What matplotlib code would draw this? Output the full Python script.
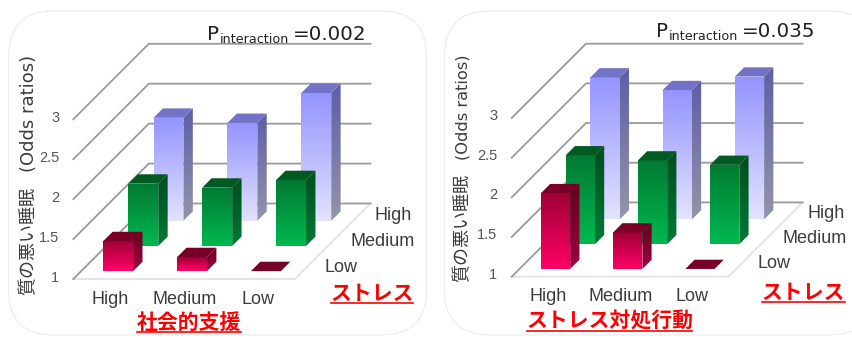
import numpy as np
import matplotlib
matplotlib.use("Agg")
import matplotlib.pyplot as plt
from matplotlib.colors import LinearSegmentedColormap
from matplotlib.patches import FancyBboxPatch, Polygon

WIDTH, HEIGHT = 852, 337
JP_FONT = ["Noto Sans CJK JP", "DejaVu Sans"]
LATIN_FONT = "Liberation Sans"

levels = ["High", "Medium", "Low"]
ticks = [1, 1.5, 2, 2.5, 3]

# odds ratios, one list per stress row, ordered High / Medium / Low on the x axis
support_stress_high = [2.29, 2.225, 2.60]
support_stress_medium = [1.78, 1.73, 1.825]
support_stress_low = [1.375, 1.175, 1.0]

coping_stress_high = [2.79, 2.63, 2.80]
coping_stress_medium = [2.12, 2.055, 2.00]
coping_stress_low = [1.955, 1.46, 1.0]

# (front top, front bottom, side top, side bottom, cap)
BLUE = ("#9494ff", "#e2e2ff", "#5e5ea6", "#9494aa", "#7272c6")
GREEN = ("#007a33", "#00b850", "#004d1f", "#007a35", "#005a22")
RED = ("#a00036", "#ff0066", "#66001f", "#a00040", "#780026")

ROW_STYLES = [RED, GREEN, BLUE]  # front row first
BAR_W = 0.405
BAR_D = 0.373
GRID = "#9a9a9a"
FLOOR = "#e2e2e2"


def pixel_layer(fig, zorder):
    # full-figure axes addressed in image pixels, y pointing down
    ax = fig.add_axes([0, 0, 1, 1], zorder=zorder)
    ax.set_xlim(0, WIDTH)
    ax.set_ylim(HEIGHT, 0)
    ax.axis("off")
    return ax


def fill_gradient(ax, corners, top, bottom, y_range, zorder):
    # vertical gradient clipped to an arbitrary polygon
    cmap = LinearSegmentedColormap.from_list("face", [bottom, top])
    xs = [c[0] for c in corners]
    grad = np.linspace(0, 1, 64).reshape(-1, 1)
    im = ax.imshow(grad, cmap=cmap, origin="lower", aspect="auto", interpolation="bilinear",
                   extent=(min(xs), max(xs), y_range[0], y_range[1]), zorder=zorder)
    clip = Polygon(corners, closed=True, transform=ax.transData)
    im.set_clip_path(clip)


def draw_bar(ax, cat, row, value, style, geo, zorder):
    sx, sz = geo["depth_x"], geo["depth_z"]
    d0 = row + 0.5 - BAR_D / 2
    d1 = row + 0.5 + BAR_D / 2
    left = cat + 0.5 - BAR_W / 2
    right = cat + 0.5 + BAR_W / 2

    def pt(x, d, v):
        return (x + d * sx, v + d * sz)

    front = [pt(left, d0, 1), pt(right, d0, 1), pt(right, d0, value), pt(left, d0, value)]
    side = [pt(right, d0, 1), pt(right, d1, 1), pt(right, d1, value), pt(right, d0, value)]
    cap = [pt(left, d0, value), pt(right, d0, value), pt(right, d1, value), pt(left, d1, value)]

    if value > 1.01:
        base = 1 + d0 * sz
        fill_gradient(ax, front, style[0], style[1], (base, value + d0 * sz), zorder)
        fill_gradient(ax, side, style[2], style[3], (base, value + d1 * sz), zorder)
    ax.add_patch(Polygon(cap, closed=True, fc=style[4], ec="none", zorder=zorder + 0.1, clip_on=False))


def draw_panel(fig, geo, rows):
    x0, x1, y1, y3, depth = geo["x0"], geo["x1"], geo["y1"], geo["y3"], geo["depth"]
    # the axes also takes in the receding part, so nothing has to spill past its box
    ax = fig.add_axes([x0 / WIDTH, 1 - y1 / HEIGHT, (x1 - x0 + depth) / WIDTH, (y1 - y3 + depth) / HEIGHT], zorder=1)
    cat_px = (x1 - x0) / 3
    geo["depth_x"] = depth / 3 / cat_px
    geo["depth_z"] = depth / 3 / ((y1 - y3) / 2)
    sx, sz = geo["depth_x"], geo["depth_z"]

    # floor edges
    ax.plot([0, 3, 3 + 3 * sx], [1, 1, 1 + 3 * sz], color=FLOOR, lw=1.3, clip_on=False, zorder=1)

    # wall gridlines run back from the left edge and then across
    for t in ticks:
        ax.plot([0, 3 * sx, 3 + 3 * sx], [t, t + 3 * sz, t + 3 * sz], color=GRID, lw=1.3,
                clip_on=False, zorder=2, solid_joinstyle="miter")

    # back row first so the nearer bars cover it
    for row in [2, 1, 0]:
        for cat in range(3):
            draw_bar(ax, cat, row, rows[row][cat], ROW_STYLES[row], geo, 10 - row + cat * 0.2)

    ax.set_xlim(0, 3 + 3 * sx)
    ax.set_ylim(1, 3 + 3 * sz)
    ax.axis("off")
    return ax


def underlined(ax, x, y, s, underline_y):
    ax.text(x, y, s, family=JP_FONT, fontsize=15, fontweight="bold", color="#ff0000",
            ha="center", va="center")
    half = len(s) * 10.35
    ax.plot([x - half, x + half], [underline_y, underline_y], color="#ff0000", lw=1.2)


fig = plt.figure(figsize=(WIDTH / 100, HEIGHT / 100), dpi=100)

# rounded cards sit behind everything
cards = pixel_layer(fig, 0)
for bx, bw in [(8.5, 418), (444.5, 430)]:
    cards.add_patch(FancyBboxPatch((bx + 45, 56), bw - 90, 234, boxstyle="round,pad=45,rounding_size=45",
                                   fc="white", ec="#ececec", lw=0.8))

support_geo = dict(x0=73.3, x1=295, y1=279, y3=119.3, depth=75.5)
coping_geo = dict(x0=511.7, x1=728.3, y1=276.7, y3=118, depth=74.3)

draw_panel(fig, support_geo, [support_stress_low, support_stress_medium, support_stress_high])
draw_panel(fig, coping_geo, [coping_stress_low, coping_stress_medium, coping_stress_high])

page = pixel_layer(fig, 5)

DARK = "#3c3c3c"
NUM = "#555555"

for panel_top, tick_right, ylab_x, jp_y, en_y, en_size, x_pos, x_y, stress_pos, p_x, p_base, p_val in [
    (279, 59.5, 28.5, 240.8, 113.3, 13, [110, 185, 258], 300,
     [(392.7, 216), (382.3, 241.7), (341, 267.3)], 207, 40, "=0.002"),
    (276.7, 497.5, 462.5, 228.3, 107.5, 11.7, [548, 620.7, 692], 296.5,
     [(826.3, 214), (814.3, 238.7), (774, 264)], 656, 37, "=0.035"),
]:
    for i, t in enumerate(ticks):
        page.text(tick_right, panel_top - 1.5 - i * 39.9, str(t), family=LATIN_FONT, fontsize=10.5,
                  color=NUM, ha="right", va="center")
    page.text(ylab_x, jp_y, "質の悪い睡眠", family=JP_FONT, fontsize=13, color=DARK,
              rotation=90, ha="center", va="center")
    page.text(ylab_x, en_y, "(Odds ratios)", family="DejaVu Sans", fontsize=en_size, color=DARK,
              rotation=90, ha="center", va="center")
    for x, s in zip(x_pos, levels):
        page.text(x, x_y, s, family=LATIN_FONT, fontsize=13, color=DARK, ha="center", va="center")
    for (x, y), s in zip(stress_pos, levels):
        page.text(x, y, s, family=LATIN_FONT, fontsize=13, color=DARK, ha="center", va="center")
    # P with a subscript, set as separate pieces
    page.text(p_x, p_base, "P", family="DejaVu Sans", fontsize=14.3, color="#222222", ha="left", va="baseline")
    page.text(p_x + 13, p_base + 3, "interaction", family="DejaVu Sans", fontsize=9.2, color="#222222",
              ha="left", va="baseline")
    page.text(p_x + 85.5, p_base, p_val, family="DejaVu Sans", fontsize=14.3, color="#222222",
              ha="left", va="baseline")

underlined(page, 372, 293, "ストレス", 302.7)
underlined(page, 189, 322.5, "社会的支援", 331.7)
underlined(page, 803.3, 292.5, "ストレス", 301.8)
underlined(page, 609.5, 321.5, "ストレス対処行動", 331)

fig.savefig("out.png", dpi=100)
